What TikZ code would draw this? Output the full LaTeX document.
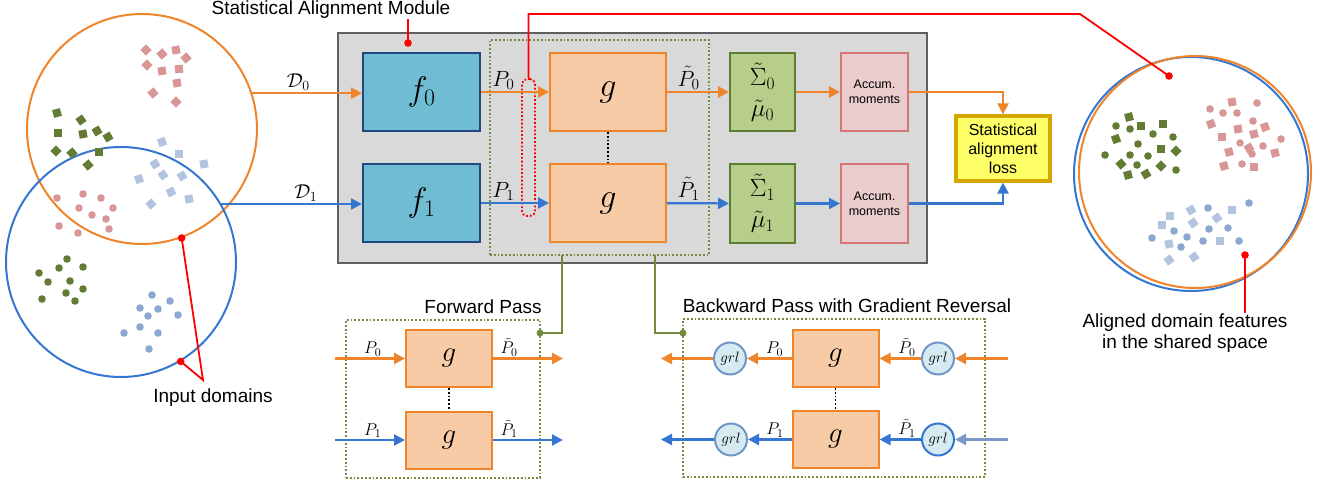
\RequirePackage{fix-cm}
\documentclass[tikz,border=0pt]{standalone}
\usepackage{fontspec}
\setmainfont{Liberation Sans}
\usetikzlibrary{arrows.meta,positioning}

\definecolor{orangeL}{RGB}{240,132,42}
\definecolor{blueL}{RGB}{52,118,208}
\definecolor{blueFaint}{RGB}{125,152,200}
\definecolor{fFill}{RGB}{112,189,211}
\definecolor{fEdge}{RGB}{32,74,125}
\definecolor{gFill}{RGB}{248,203,167}
\definecolor{gEdge}{RGB}{240,132,42}
\definecolor{sFill}{RGB}{182,206,137}
\definecolor{sEdge}{RGB}{90,125,50}
\definecolor{aFill}{RGB}{235,204,204}
\definecolor{aEdge}{RGB}{212,118,118}
\definecolor{lossFill}{RGB}{255,255,104}
\definecolor{lossEdge}{RGB}{214,166,0}
\definecolor{modFill}{RGB}{217,217,217}
\definecolor{modEdge}{RGB}{95,95,95}
\definecolor{olive}{RGB}{112,140,60}
\definecolor{ptPink}{RGB}{216,150,150}
\definecolor{ptGreen}{RGB}{98,124,52}
\definecolor{ptLblue}{RGB}{178,196,224}
\definecolor{ptBlue}{RGB}{140,168,208}
\definecolor{grlFill}{RGB}{214,235,241}
\definecolor{grlEdge}{RGB}{112,150,200}

\newcommand{\txtfont}{\fontsize{19}{22}\selectfont}
\newcommand{\bigmath}[1]{\fontsize{#1}{#1}\selectfont}

\tikzset{
  lbl/.style={font=\txtfont, inner sep=0},
  modbox/.style={draw=modEdge, fill=modFill, line width=2},
  fbox/.style={draw=fEdge, fill=fFill, line width=2, minimum width=117, minimum height=78, font=\bigmath{34}},
  gbox/.style={draw=gEdge, fill=gFill, line width=2, minimum width=116, minimum height=78, font=\bigmath{34}},
  gsmall/.style={gbox, minimum width=86, minimum height=57, font=\bigmath{29}},
  sbox/.style={draw=sEdge, fill=sFill, line width=2, minimum width=65, minimum height=78, font=\bigmath{25}, align=center},
  accbox/.style={draw=aEdge, fill=aFill, line width=2, minimum width=67, minimum height=78, font=\fontsize{12.5}{15}\selectfont, align=center},
  lossbox/.style={draw=lossEdge, fill=lossFill, line width=3.2, minimum width=94, minimum height=65, font=\fontsize{16}{19}\selectfont, align=center},
  grl/.style={circle, draw=grlEdge, fill=grlFill, line width=2, minimum size=32, inner sep=0, font=\bigmath{15}},
  dotbox/.style={draw=olive, dotted, line width=1.8},
  oarr/.style={draw=orangeL, line width=2.2, -{Triangle[length=11pt,width=11pt]}},
  barr/.style={draw=blueL, line width=2.2, -{Triangle[length=11pt,width=11pt]}},
  plab/.style={above, inner sep=1.5, font=\bigmath{22}},
  psmall/.style={above, inner sep=1, font=\bigmath{17}},
}

\begin{document}
\begin{tikzpicture}[x=1pt, y=-1pt]
\useasboundingbox (0,0) rectangle (1320,484);

% input domains
\node[circle, draw=orangeL, line width=2, minimum size=230, inner sep=0] (dom0) at (142,129) {};
\node[circle, draw=blueL, line width=2, minimum size=230, inner sep=0] (dom1) at (121,262) {};
\foreach \x/\y/\r in {146/50/45,162/54/40,176/50/10,186/58/40,147/65/45,162/71/10,179/69/5,177/83/10,153/93/40,176/102/45}
  \fill[ptPink, rotate around={\r:(\x,\y)}] (\x-4,\y-4) rectangle (\x+4,\y+4);
\foreach \x/\y/\r in {57/113/15,81/120/35,58/133/0,83/134/10,97/131/30,108/137/30,56/151/45,72/153/40,99/152/0,88/165/40}
  \fill[ptGreen, rotate around={\r:(\x,\y)}] (\x-4,\y-4) rectangle (\x+4,\y+4);
\foreach \x/\y/\r in {162/142/20,179/154/0,204/164/10,155/164/30,163/175/35,182/176/30,139/179/20,171/192/25,189/199/10,151/204/40}
  \fill[ptLblue, rotate around={\r:(\x,\y)}] (\x-4,\y-4) rectangle (\x+4,\y+4);
\foreach \x/\y in {57/198,83/194,101/198,79/208,113/208,92/215,106/219,59/226,109/229,78/233}
  \fill[ptPink] (\x,\y) circle (3.8);
\foreach \x/\y in {67/259,83/267,59/268,39/273,70/281,48/282,83/289,66/293,42/299,75/301}
  \fill[ptGreen] (\x,\y) circle (3.8);
\foreach \x/\y in {152/295,170/301,140/308,158/309,178/315,148/316,140/327,124/333,158/333,149/349}
  \fill[ptBlue] (\x,\y) circle (3.8);

% module
\node[modbox, minimum width=589, minimum height=230] (sam) at (632.5,148) {};
\node[lbl] (samlabel) at (331,10) {Statistical Alignment Module};
\node[dotbox, minimum width=219, minimum height=215] (shared) at (599.5,147.5) {};
\node[fbox] (f0) at (421.5,92) {$f_0$};
\node[fbox] (f1) at (421.5,203) {$f_1$};
\node[gbox] (g0) at (608,92) {$g$};
\node[gbox] (g1) at (608,203) {$g$};
\node[sbox] (s0) at (762.5,92) {$\tilde{\Sigma}_0$\\[6pt]$\tilde{\mu}_0$};
\node[sbox] (s1) at (762.5,203.5) {$\tilde{\Sigma}_1$\\[6pt]$\tilde{\mu}_1$};
\node[accbox] (a0) at (874.5,92) {Accum.\\moments};
\node[accbox] (a1) at (874.5,203.5) {Accum.\\moments};
\node[lossbox] (loss) at (1003,148.5) {Statistical\\alignment\\loss};
\node[draw=red, dotted, line width=1.8, rounded corners=5, minimum width=13, minimum height=137, inner sep=0] (pick) at (528.5,147.5) {};

\draw[oarr] (dom0.18.8) -- node[plab, pos=0.42, font=\bigmath{20}] {$\mathcal{D}_0$} (dom0.18.8 -| f0.west);
\draw[barr] (dom1.30.9) -- node[plab, pos=0.6, font=\bigmath{20}] {$\mathcal{D}_1$} (dom1.30.9 -| f1.west);
\draw[oarr] (f0) -- node[plab, pos=0.33] {$P_0$} (g0);
\draw[barr] (f1) -- node[plab, pos=0.33] {$P_1$} (g1);
\draw[oarr] (g0) -- node[plab, pos=0.35] {$\tilde{P}_0$} (s0);
\draw[barr] (g1) -- node[plab, pos=0.35] {$\tilde{P}_1$} (s1);
\draw[oarr] (s0) -- (a0);
\draw[barr] (s1) -- (a1);
\draw[oarr] (a0) -| (loss.north);
\draw[barr] (a1) -| (loss.south);
\draw[black, dotted, line width=1.8] (g0) -- (g1);

% aligned space
\node[circle, draw=blueL, line width=2, minimum size=234, inner sep=0] (out1) at (1191,174) {};
\node[circle, draw=orangeL, line width=2, minimum size=232, inner sep=0] (out0) at (1195,172) {};
\foreach \x/\y in {1116/126,1130/129,1153/134,1173/137,1138/144,1105/155,1130/155,1148/156,1137/165,1176/170}
  \fill[ptGreen] (\x,\y) circle (3.8);
\foreach \x/\y/\r in {1129/117/15,1141/126/0,1163/124/0,1116/139/20,1161/149/0,1176/151/45,1121/164/40,1128/175/15,1146/174/30,1161/166/45}
  \fill[ptGreen, rotate around={\r:(\x,\y)}] (\x-4,\y-4) rectangle (\x+4,\y+4);
\foreach \x/\y in {1210/109,1223/113,1237/113,1257/103,1253/121,1240/143,1263/146,1281/139,1252/154,1242/164}
  \fill[ptPink] (\x,\y) circle (3.8);
\foreach \x/\y/\r in {1232/102/10,1211/124/20,1222/137/0,1238/129/10,1254/134/15,1265/127/20,1229/152/15,1249/148/30,1275/153/15,1224/166/15,1254/167/0}
  \fill[ptPink, rotate around={\r:(\x,\y)}] (\x-4,\y-4) rectangle (\x+4,\y+4);
\foreach \x/\y in {1208/208,1249/203,1228/228,1209/229,1174/231,1187/237,1152/238,1203/241,1239/241,1181/247}
  \fill[ptBlue] (\x,\y) circle (3.8);
\foreach \x/\y/\r in {1191/210/30,1232/210/0,1170/216/0,1217/218/35,1193/223/35,1162/225/0,1220/241/0,1169/244/10,1194/257/35,1169/260/35}
  \fill[ptLblue, rotate around={\r:(\x,\y)}] (\x-4,\y-4) rectangle (\x+4,\y+4);
\node[lbl, align=center, font=\fontsize{19}{21.5}\selectfont] (alignlabel) at (1185,333) {Aligned domain features\\in the shared space};

% red pointers
\coordinate (samdot) at (408,43);
\draw[red, line width=1.8] (samlabel.south -| samdot) -- (samdot);
\fill[red] (samdot) circle (3.8);
\coordinate (bend) at (1080,14);
\coordinate (spacedot) at (1169,76);
\draw[red, line width=1.8] (pick.north) |- (bend) -- (spacedot);
\fill[red] (spacedot) circle (3.8);
\coordinate (featdot) at (1245,255);
\draw[red, line width=1.8] (featdot) -- (featdot |- alignlabel.north);
\fill[red] (featdot) circle (3.8);
\node[lbl] (inlabel) at (213,398) {Input domains};
\coordinate (vtip) at (203,380);
\draw[red, line width=1.8] (dom0.-70.6) -- (vtip) -- (dom1.-59);
\fill[red] (dom0.-70.6) circle (3.8) (dom1.-59) circle (3.8);

% forward pass
\node[dotbox, minimum width=194, minimum height=158] (fwd) at (443,399) {};
\node[lbl] (fwdlabel) at (483,307) {Forward Pass};
\node[gsmall] (fg0) at (449,358.5) {$g$};
\node[gsmall] (fg1) at (449,440) {$g$};
\coordinate (fin0) at (335,358.5);
\coordinate (fin1) at (335,440);
\coordinate (fout0) at (563,358.5);
\coordinate (fout1) at (563,440);
\draw[oarr] (fin0) -- node[psmall, pos=0.54] {$P_0$} (fg0);
\draw[barr] (fin1) -- node[psmall, pos=0.54] {$P_1$} (fg1);
\draw[oarr] (fg0) -- node[psmall, pos=0.23] {$\tilde{P}_0$} (fout0);
\draw[barr] (fg1) -- node[psmall, pos=0.23] {$\tilde{P}_1$} (fout1);
\draw[black, dotted, line width=1.8] (fg0) -- (fg1);

% backward pass
\node[dotbox, minimum width=302, minimum height=158] (bwd) at (834,398) {};
\node[lbl] (bwdlabel) at (847,306) {Backward Pass with Gradient Reversal};
\node[gsmall] (bg0) at (835.5,358.5) {$g$};
\node[gsmall] (bg1) at (835.5,439.5) {$g$};
\node[grl] (gl0) at (730,358.5) {$grl$};
\node[grl] (gr0) at (938,358.5) {$grl$};
\node[grl] (gl1) at (731,439.5) {$grl$};
\node[grl, draw=blueL] (gr1) at (938,439.5) {$grl$};
\coordinate (bin0) at (1008,358.5);
\coordinate (bin1) at (1008,439.5);
\coordinate (bout0) at (661,358.5);
\coordinate (bout1) at (661,439.5);
\draw[oarr] (bin0) -- (gr0);
\draw[oarr] (gr0) -- node[psmall, pos=0.34] {$\tilde{P}_0$} (bg0);
\draw[oarr] (bg0) -- node[psmall, pos=0.38] {$P_0$} (gl0);
\draw[oarr] (gl0) -- (bout0);
\draw[barr, draw=blueFaint] (bin1) -- (gr1);
\draw[barr] (gr1) -- node[psmall, pos=0.34] {$\tilde{P}_1$} (bg1);
\draw[barr] (bg1) -- node[psmall, pos=0.38] {$P_1$} (gl1);
\draw[barr] (gl1) -- (bout1);
\draw[black, dotted, line width=1.8] (bg0) -- (bg1);

% taps to the passes
\coordinate (tapf) at (562,255);
\coordinate (tapb) at (655,255);
\coordinate (fdot) at (540,333);
\coordinate (bdot) at (683,333);
\draw[olive, line width=1.8] (tapf) |- (fdot);
\draw[olive, line width=1.8] (tapb) |- (bdot);
\fill[olive] (fdot) circle (3.5) (bdot) circle (3.5);
\end{tikzpicture}
\end{document}
